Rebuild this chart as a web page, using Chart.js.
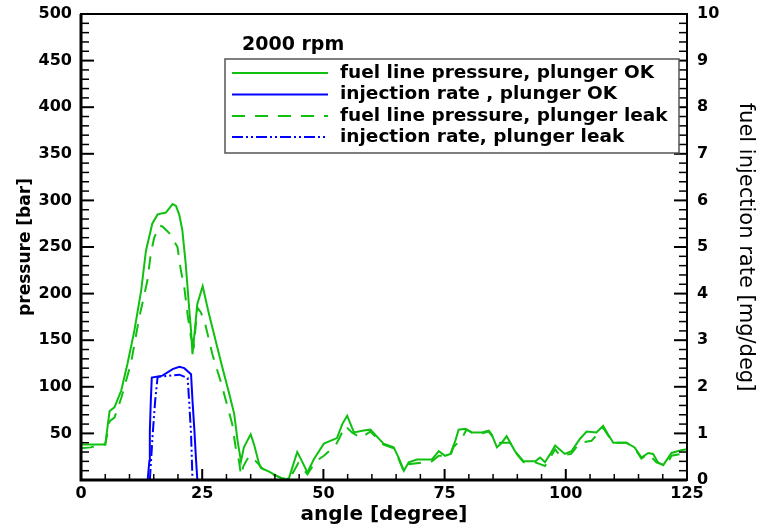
<!DOCTYPE html>
<html>
<head>
<meta charset="utf-8">
<script src="https://cdn.jsdelivr.net/npm/chart.js@4.4.1/dist/chart.umd.min.js"></script>
<style>
  html, body { margin: 0; padding: 0; background: #fff; }
  #wrap { width: 760px; height: 529px; position: relative; }
</style>
</head>
<body>
<div id="wrap"><canvas id="chart"></canvas></div>
<script>
// fuel line pressure, plunger OK [bar] vs angle [degree]
const okAngle = [0, 5, 5.9, 6.9, 8.3, 9.6, 11.0, 12.4, 13.4, 14.7, 15.8, 17.5, 18.9, 19.6, 20.3, 20.9, 21.6, 22.3, 22.7, 23.0,
  24.0, 25.1, 26.4, 27.8, 29.2, 30.6, 31.6, 32.3, 33.0, 33.6, 35.0, 35.7, 36.7, 37.1, 38.8, 39.8, 41.2, 42.0, 42.9, 44.6,
  45.6, 46.7, 48.0, 50.1, 52.8, 53.9, 54.9, 56.3, 58.3, 59.7, 62.4, 64.5, 65.5, 66.6, 67.6, 69.3, 72.4, 73.8, 75.1, 76.2,
  77.2, 77.9, 79.3, 80.6, 82.7, 84.1, 84.7, 85.8, 86.8, 87.8, 89.5, 91.3, 93.7, 94.7, 95.7, 96.8, 97.8, 99.8, 101.2, 102.9,
  104.3, 106.3, 107.7, 108.7, 109.8, 112.5, 114.2, 115.6, 117.0, 118.0, 119.0, 120.1, 121.8, 123.8, 125];
const okPressure = [38, 38, 74, 78, 96, 125, 160, 203, 246, 275, 285, 287, 296, 294, 284, 268, 232, 185, 160, 135,
  189, 208, 178, 149, 120, 92, 71, 42, 20, 35, 49, 38, 18, 13, 9, 6, 2, 0, 2, 30,
  20, 8, 22, 39, 45, 60, 69, 51, 53, 54, 39, 35, 24, 10, 19, 22, 22, 31, 26, 28,
  42, 54, 55, 51, 51, 53, 49, 35, 40, 47, 31, 20, 20, 24, 19, 28, 37, 28, 31, 44,
  52, 51, 58, 49, 40, 40, 35, 24, 29, 28, 19, 16, 29, 32, 33];

// fuel line pressure, plunger leak [bar]
const leakAngle = [0, 2, 4, 5, 5.9, 6.9, 8.3, 10.3, 12.0, 13.7, 14.4, 15.1, 16.2, 16.8, 18.2, 18.9, 19.9, 20.6, 21.3, 22.0,
  22.7, 23.3, 24.0, 24.7, 25.5, 27.1, 28.8, 31.2, 31.9, 32.6, 33.0, 33.5, 34.7, 36.1, 37.5, 39.0, 41.5, 43.0, 44.8, 46.7,
  48.4, 50.1, 52.5, 53.2, 54.5, 55.9, 57.7, 59.7, 62.4, 64.5, 65.5, 66.6, 67.6, 70.7, 72.4, 73.8, 76.2, 76.8, 78.5, 79.5,
  80.6, 82.7, 84.1, 84.7, 85.8, 88.5, 89.5, 91.3, 93.7, 94.7, 95.7, 96.8, 97.8, 98.8, 101.1, 102.9, 105.3, 106.3, 107.7, 108.7,
  109.8, 112.5, 114.2, 115.6, 117.0, 118.7, 120.7, 121.8, 124.0, 125];
const leakPressure = [34, 35, 38, 38, 63, 67, 88, 125, 174, 214, 243, 260, 273, 272, 265, 259, 250, 225, 207, 177,
  153, 145, 185, 180, 170, 135, 106, 60, 35, 20, 5, 15, 26, 20, 12, 7, 2, 1, 18, 6,
  20, 26, 37, 44, 58, 51, 45, 52, 38, 34, 23, 9, 17, 19, 20, 26, 26, 35, 44, 54,
  51, 50, 52, 48, 40, 40, 30, 19, 19, 17, 15, 24, 33, 26, 28, 40, 42, 48, 56, 48,
  40, 40, 34, 23, 28, 19, 15, 26, 28, 29];

// injection rate, plunger OK [mg/deg]
const okRateAngle = [13.75, 14.1, 14.2, 14.4, 14.6, 16.8, 18.9, 20.3, 21.3, 22.7, 23.0, 23.4, 23.7, 24.0];
const okRate = [0, 0.41, 1.05, 1.70, 2.20, 2.24, 2.38, 2.43, 2.40, 2.27, 1.70, 1.05, 0.48, 0];

// injection rate, plunger leak [mg/deg]
const leakRateAngle = [14.2, 14.8, 15.3, 15.8, 20.3, 22.0, 22.3, 22.7, 23.0];
const leakRate = [0, 1.0, 1.7, 2.21, 2.26, 2.19, 1.70, 0.99, 0];

const seriesLabels = ['fuel line pressure, plunger OK', 'injection rate , plunger OK',
  'fuel line pressure, plunger leak', 'injection rate, plunger leak'];
const titleText = '2000 rpm';

const GREEN = '#10c010';
const BLUE = '#0000ff';

const toPoints = (xs, ys) => xs.map((x, i) => ({ x: x, y: ys[i] }));

// ticks drawn inside the frame, major + minor
function drawTicks(ctx, scale, major, minor, bigLen, smallLen, side, a) {
  const n = Math.round((scale.max - scale.min) / minor);
  for (let i = 0; i <= n; i++) {
    const v = scale.min + i * minor;
    const isMajor = Math.abs(v / major - Math.round(v / major)) < 1e-6;
    const len = isMajor ? bigLen : smallLen;
    const p = scale.getPixelForValue(v);
    ctx.lineWidth = isMajor ? 2 : 1.5;
    ctx.beginPath();
    if (side === 'left') { ctx.moveTo(a.left, p); ctx.lineTo(a.left + len, p); }
    if (side === 'right') { ctx.moveTo(a.right, p); ctx.lineTo(a.right - len, p); }
    if (side === 'bottom') { ctx.moveTo(p, a.bottom); ctx.lineTo(p, a.bottom - len); }
    ctx.stroke();
  }
}

const frameTicks = {
  id: 'frameTicks',
  afterDatasetsDraw(chart) {
    const { ctx, chartArea: a, scales } = chart;
    ctx.save();
    ctx.strokeStyle = '#000';
    drawTicks(ctx, scales.y, 50, 10, 13, 8, 'left', a);
    drawTicks(ctx, scales.y2, 1, 0.2, 13, 8, 'right', a);
    drawTicks(ctx, scales.x, 25, 5, 11, 6, 'bottom', a);
    // frame
    ctx.lineWidth = 2;
    ctx.strokeRect(a.left, a.top, a.right - a.left, a.bottom - a.top);
    ctx.lineWidth = 3;
    ctx.beginPath();
    ctx.moveTo(a.left, a.top);
    ctx.lineTo(a.left, a.bottom);
    ctx.lineTo(a.right, a.bottom);
    ctx.stroke();
    ctx.restore();
  }
};

// legend box inside the plot, with the "2000 rpm" label above it
const boxLegend = {
  id: 'boxLegend',
  afterDraw(chart) {
    const { ctx } = chart;
    const sets = chart.data.datasets;
    ctx.save();
    ctx.font = 'bold 19px "DejaVu Sans"';
    ctx.fillStyle = '#000';
    ctx.textBaseline = 'middle';
    ctx.fillText(titleText, 242, 45);

    ctx.fillStyle = '#fff';
    ctx.fillRect(225, 59, 454, 94);
    ctx.strokeStyle = '#555';
    ctx.lineWidth = 1.5;
    ctx.strokeRect(225, 59, 454, 94);

    const rows = [73, 94.5, 116, 137];
    const order = [0, 2, 1, 3];
    ctx.font = 'bold 18.5px "DejaVu Sans"';
    rows.forEach((y, i) => {
      const ds = sets[order[i]];
      ctx.strokeStyle = ds.borderColor;
      ctx.lineWidth = 2;
      ctx.setLineDash(ds.borderDash || []);
      ctx.beginPath();
      ctx.moveTo(232, y);
      ctx.lineTo(328, y);
      ctx.stroke();
      ctx.setLineDash([]);
      ctx.fillStyle = '#000';
      ctx.fillText(ds.label, 340, y);
    });
    ctx.restore();
  }
};

const tickFont = { family: 'DejaVu Sans', size: 16, weight: 'bold' };

// fix the scale boxes so the plot frame lands where the original one is
const fixWidth = w => scale => { scale.width = w; scale.paddingTop = 0; scale.paddingBottom = 0; };
const fixHeight = h => scale => { scale.height = h; scale.paddingLeft = 0; scale.paddingRight = 0; };

new Chart(document.getElementById('chart'), {
  type: 'line',
  data: {
    datasets: [
      {
        label: seriesLabels[0],
        data: toPoints(okAngle, okPressure),
        yAxisID: 'y',
        borderColor: GREEN,
        borderWidth: 2
      },
      {
        label: seriesLabels[2],
        data: toPoints(leakAngle, leakPressure),
        yAxisID: 'y',
        borderColor: GREEN,
        borderWidth: 2,
        borderDash: [13, 10]
      },
      {
        label: seriesLabels[1],
        data: toPoints(okRateAngle, okRate),
        yAxisID: 'y2',
        borderColor: BLUE,
        borderWidth: 2
      },
      {
        label: seriesLabels[3],
        data: toPoints(leakRateAngle, leakRate),
        yAxisID: 'y2',
        borderColor: BLUE,
        borderWidth: 2,
        borderDash: [11, 3, 2, 3, 2, 3]
      }
    ]
  },
  options: {
    responsive: true,
    maintainAspectRatio: false,
    animation: false,
    layout: { padding: { left: 10, right: 0, top: 14, bottom: 0 } },
    elements: {
      point: { radius: 0 },
      line: { tension: 0, fill: false }
    },
    plugins: {
      legend: { display: false },
      tooltip: { enabled: false }
    },
    scales: {
      x: {
        type: 'linear',
        min: 0,
        max: 125,
        afterFit: fixHeight(49),
        grid: { display: false, drawTicks: false },
        border: { display: false },
        ticks: { stepSize: 25, color: '#000', font: tickFont, padding: 4, maxRotation: 0 },
        title: {
          display: true,
          text: 'angle [degree]',
          color: '#000',
          font: { family: 'DejaVu Sans', size: 20, weight: 'bold', lineHeight: 1.1 },
          padding: { top: 1, bottom: 3 }
        }
      },
      y: {
        position: 'left',
        min: 0,
        max: 500,
        afterFit: fixWidth(71),
        grid: { display: false, drawTicks: false },
        border: { display: false },
        ticks: {
          stepSize: 50,
          color: '#000',
          font: tickFont,
          padding: 9,
          callback: v => (v === 0 ? '' : v)
        },
        title: {
          display: true,
          text: 'pressure [bar]',
          color: '#000',
          font: { family: 'DejaVu Sans', size: 17, weight: 'bold' },
          padding: { top: 5, bottom: 3 }
        }
      },
      y2: {
        position: 'right',
        min: 0,
        max: 10,
        afterFit: fixWidth(73),
        grid: { display: false, drawTicks: false },
        border: { display: false },
        ticks: { stepSize: 1, color: '#000', font: tickFont, padding: 10 },
        title: {
          display: true,
          text: 'fuel injection rate [mg/deg]',
          color: '#000',
          font: { family: 'DejaVu Sans', size: 21 },
          padding: { top: 2, bottom: 14 }
        }
      }
    }
  },
  plugins: [frameTicks, boxLegend]
});
</script>
</body>
</html>
